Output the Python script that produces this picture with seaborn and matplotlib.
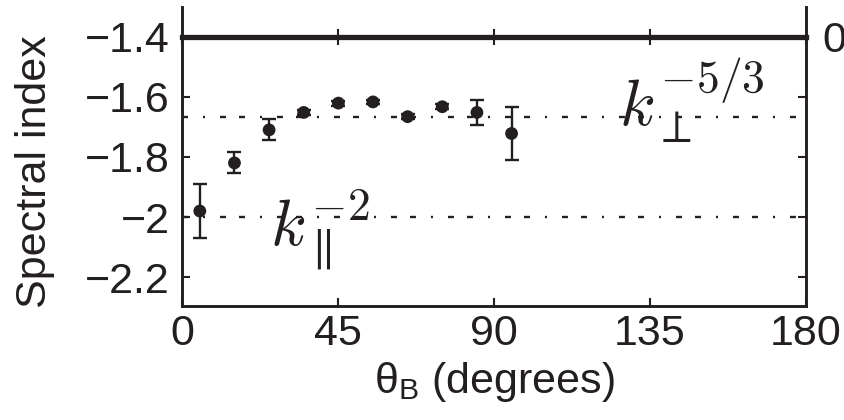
import matplotlib
matplotlib.use("Agg")
import matplotlib.pyplot as plt
import pandas as pd
import seaborn as sns

# Field-angle bins (degrees) and fitted spectral indices with their uncertainties
theta_deg = [5, 15, 25, 35, 45, 55, 65, 75, 85, 95]
spectral_index = [-1.98, -1.82, -1.71, -1.652, -1.621, -1.617, -1.666, -1.633, -1.652, -1.722]
index_err = [0.09, 0.035, 0.035, 0.008, 0.008, 0.008, 0.008, 0.008, 0.042, 0.088]

x_ticks = [0, 45, 90, 135, 180]
x_tick_labels = ["0", "45", "90", "135", "180"]
y_ticks = [-2.2, -2.0, -1.8, -1.6, -1.4]
y_tick_labels = ["\u22122.2", "\u22122", "\u22121.8", "\u22121.6", "\u22121.4"]

perp_slope = -5 / 3
par_slope = -2.0

INK = "#231f20"

sns.set_theme(style="ticks")
plt.rcParams["font.family"] = ["Liberation Sans", "DejaVu Sans"]
plt.rcParams["mathtext.fontset"] = "custom"
plt.rcParams["mathtext.rm"] = "Liberation Sans"
plt.rcParams["mathtext.it"] = "Liberation Sans"
plt.rcParams["lines.scale_dashes"] = False
plt.rcParams["text.color"] = INK
plt.rcParams["axes.labelcolor"] = INK
plt.rcParams["xtick.color"] = INK
plt.rcParams["ytick.color"] = INK

df = pd.DataFrame({"theta": theta_deg, "index": spectral_index, "err": index_err})

fig = plt.figure(figsize=(8.45, 4.2), dpi=100)
W, H = 845, 420
left_px, right_px = 182.5, 806
bottom_px, top_px, upper_top_px = 305.7, 36.7, 7

ax = fig.add_axes([left_px / W, 1 - bottom_px / H,
                   (right_px - left_px) / W, (bottom_px - top_px) / H])
ax_top = fig.add_axes([left_px / W, 1 - top_px / H,
                       (right_px - left_px) / W, (top_px - upper_top_px) / H])

FS = 31
SPINE_LW = 2.1

# reference power-law slopes
ref_dash = (0, (4.3, 10.8, 1.44, 10.8, 4.3, 9.4))
for slope in (perp_slope, par_slope):
    ax.axhline(slope, color=INK, lw=1.7, ls=ref_dash, zorder=1)

ax.errorbar(df["theta"], df["index"], yerr=df["err"], fmt="none",
            ecolor=INK, elinewidth=1.7, capsize=5.0, capthick=1.7, zorder=2)
sns.scatterplot(data=df, x="theta", y="index", ax=ax, color=INK, s=85,
                marker="o", edgecolor="none", linewidth=0, zorder=3, legend=False)

ax.set_xlim(0, 180)
ax.set_ylim(-2.295, -1.4)
ax.set_xticks(x_ticks)
ax.set_xticklabels(x_tick_labels)
ax.set_yticks(y_ticks)
ax.set_yticklabels(y_tick_labels)
ax.tick_params(axis="both", direction="in", length=5.5, width=1.5,
               labelsize=FS, top=True, right=True, colors=INK)
ax.tick_params(axis="y", pad=9)
ax.tick_params(axis="x", pad=6)
for name, sp in ax.spines.items():
    sp.set_visible(True)
    sp.set_color(INK)
    sp.set_linewidth(SPINE_LW)
ax.spines["top"].set_linewidth(3.8)

ax.set_xlabel(r"$\mathregular{\theta_B}$ (degrees)", fontsize=FS)
ax.set_ylabel("Spectral index", fontsize=FS)
ax.yaxis.set_label_coords(-0.205, 0.5)
ax.xaxis.set_label_coords(0.5, -0.2)

ax.text(25.4, -2.092, r"$k_{\parallel}^{-2}$", fontsize=47, math_fontfamily="cm",
        ha="left", va="baseline", color=INK, zorder=4)
ax.text(126, -1.699, r"$k_{\perp}^{-5/3}$", fontsize=47, math_fontfamily="cm",
        ha="left", va="baseline", color=INK, zorder=4)

# strip of the panel above
ax_top.set_xlim(0, 180)
ax_top.set_ylim(0, 1)
ax_top.set_facecolor("none")
ax_top.spines["top"].set_visible(False)
ax_top.spines["bottom"].set_visible(False)
for side in ("left", "right"):
    ax_top.spines[side].set_visible(True)
    ax_top.spines[side].set_color(INK)
    ax_top.spines[side].set_linewidth(SPINE_LW)
ax_top.set_xticks([45, 90, 135])
ax_top.set_xticklabels([])
ax_top.tick_params(axis="x", direction="in", length=6, width=1.5, bottom=True,
                   top=False, colors=INK)
ax_top.set_yticks([0])
ax_top.set_yticklabels(["0"])
ax_top.tick_params(axis="y", left=False, right=True, labelleft=False, labelright=True,
                   length=0, pad=12, labelsize=FS, colors=INK)

fig.savefig("out.png", dpi=100)
